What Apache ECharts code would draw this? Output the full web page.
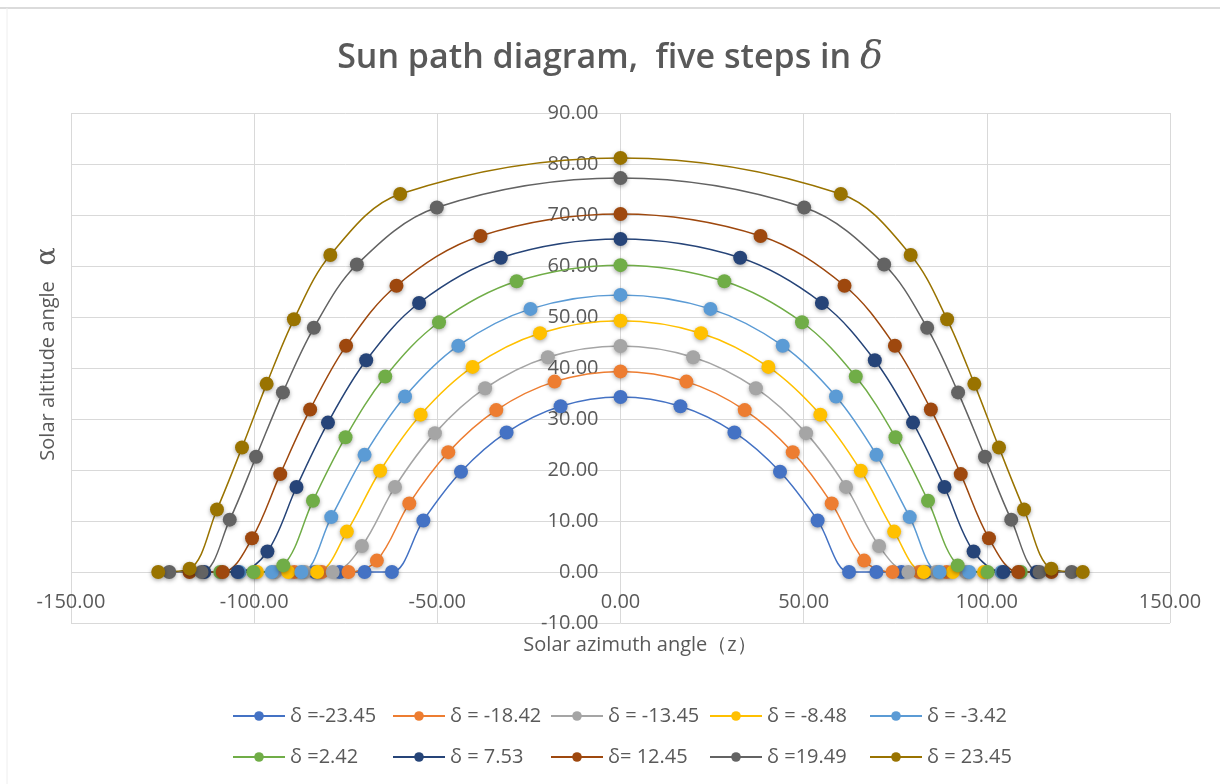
<!DOCTYPE html>
<html>
<head>
<meta charset="utf-8">
<script src="https://cdn.jsdelivr.net/npm/echarts@6/dist/echarts.min.js"></script>
<style>
html,body{margin:0;padding:0;background:#fff;}
#chart{width:1220px;height:784px;}
</style>
</head>
<body>
<div id="chart"></div>
<script>
// Series names (as in legend)
var seriesNames = ['δ =-23.45', 'δ = -18.42', 'δ = -13.45', 'δ = -8.48', 'δ = -3.42',
                   'δ =2.42', 'δ = 7.53', 'δ= 12.45', 'δ =19.49', 'δ = 23.45'];
var seriesColors = ['#4472C4', '#ED7D31', '#A5A5A5', '#FFC000', '#5B9BD5',
                    '#70AD47', '#264478', '#9E480E', '#636363', '#997300'];

// Solar azimuth angle z (x) and solar altitude angle α (y), one point per hour
var az_m2345 = [-83.40,-76.67,-69.85,-62.40,-53.81,-43.54,-31.10,-16.35,0,16.35,31.10,43.54,53.81,62.40,69.85,76.67,83.40];
var al_m2345 = [0,0,0,0,10.11,19.65,27.36,32.49,34.30,32.49,27.36,19.65,10.11,0,0,0,0];

var az_m1842 = [-89.02,-81.55,-74.27,-66.51,-57.65,-47.02,-33.91,-17.99,0,17.99,33.91,47.02,57.65,66.51,74.27,81.55,89.02];
var al_m1842 = [0,0,0,2.24,13.45,23.50,31.75,37.33,39.33,37.33,31.75,23.50,13.45,2.24,0,0,0];

var az_m1345 = [-94.26,-86.20,-78.57,-70.59,-61.56,-50.66,-36.96,-19.83,0,19.83,36.96,50.66,61.56,70.59,78.57,86.20,94.26];
var al_m1345 = [0,0,0,5.09,16.69,27.23,36.03,42.10,44.30,42.10,36.03,27.23,16.69,5.09,0,0,0];

var az_m848 = [-99.23,-90.71,-82.81,-74.70,-65.60,-54.55,-40.37,-21.97,0,21.97,40.37,54.55,65.60,74.70,82.81,90.71,99.23];
var al_m848 = [0,0,0,7.92,19.85,30.85,40.22,46.83,49.27,46.83,40.22,30.85,19.85,7.92,0,0,0];

var az_m342 = [-104.02,-95.18,-87.11,-78.95,-69.87,-58.82,-44.28,-24.57,0,24.57,44.28,58.82,69.87,78.95,87.11,95.18,104.02];
var al_m342 = [0,0,0,10.76,22.97,34.41,44.37,51.59,54.33,51.59,44.37,34.41,22.97,10.76,0,0,0];

var az_p242 = [-109.26,-100.20,-92.05,-83.95,-75.06,-64.22,-49.54,-28.35,0,28.35,49.54,64.22,75.06,83.95,92.05,100.20,109.26];
var al_p242 = [0,0,1.29,13.96,26.43,38.32,48.97,57.01,60.17,57.01,48.97,38.32,26.43,13.96,1.29,0,0];

var az_p753 = [-113.61,-104.51,-96.38,-88.44,-79.85,-69.42,-54.98,-32.67,0,32.67,54.98,69.42,79.85,88.44,96.38,104.51,113.61];
var al_p753 = [0,0,4.01,16.67,29.29,41.51,52.75,61.62,65.28,61.62,52.75,41.51,29.29,16.67,4.01,0,0];

var az_p1245 = [-117.64,-108.59,-100.58,-92.88,-84.72,-74.91,-61.15,-38.22,0,38.22,61.15,74.91,84.72,92.88,100.58,108.59,117.64];
var al_p1245 = [0,0,6.61,19.20,31.87,44.35,56.13,65.89,70.20,65.89,56.13,44.35,31.87,19.20,6.61,0,0];

var az_p1949 = [-123.17,-114.36,-106.66,-99.48,-92.15,-83.71,-71.97,-50.14,0,50.14,71.97,83.71,92.15,99.48,106.66,114.36,123.17];
var al_p1949 = [0,0,10.26,22.61,35.22,47.89,60.29,71.47,77.24,71.47,60.29,47.89,35.22,22.61,10.26,0,0];

var az_p2345 = [-126.19,-117.60,-110.15,-103.32,-96.59,-89.15,-79.21,-60.14,0,60.14,79.21,89.15,96.59,103.32,110.15,117.60,126.19];
var al_p2345 = [0,0.66,12.26,24.40,36.89,49.55,62.16,74.11,81.20,74.11,62.16,49.55,36.89,24.40,12.26,0.66,0];

var azimuths = [az_m2345, az_m1842, az_m1345, az_m848, az_m342, az_p242, az_p753, az_p1245, az_p1949, az_p2345];
var altitudes = [al_m2345, al_m1842, al_m1345, al_m848, al_m342, al_p242, al_p753, al_p1245, al_p1949, al_p2345];

var textColor = '#595959';
var gridColor = '#d9d9d9';
var fontFam = '"Open Sans", "Noto Sans", sans-serif';

// grid geometry (used to place the axes where they cross zero)
var G_LEFT = 71, G_RIGHT = 50, G_TOP = 113, G_BOTTOM = 161, W = 1220, H = 784;
var X_MIN = -150, X_MAX = 150, Y_MIN = -10, Y_MAX = 90;
var gridW = W - G_LEFT - G_RIGHT, gridH = H - G_TOP - G_BOTTOM;
var yAxisShift = gridW * (0 - X_MIN) / (X_MAX - X_MIN);   // from left edge to x=0
var xAxisShift = gridH * (0 - Y_MIN) / (Y_MAX - Y_MIN);   // from bottom edge to y=0

var series = seriesNames.map(function (name, i) {
  var pts = azimuths[i].map(function (z, k) { return [z, altitudes[i][k]]; });
  return {
    name: name,
    type: 'line',
    data: pts,
    smooth: 0.35,
    symbol: 'circle',
    symbolSize: 14,
    lineStyle: { width: 1.5, color: seriesColors[i] },
    itemStyle: {
      color: seriesColors[i],
      shadowBlur: 4,
      shadowColor: 'rgba(0,0,0,0.35)',
      shadowOffsetY: 1.5
    },
    emphasis: { disabled: true }
  };
});

var colX = [232, 392, 550, 709, 869];
var rowY = [716, 757];
var legends = seriesNames.map(function (name, i) {
  return {
    data: [name],
    left: colX[i % 5],
    top: rowY[Math.floor(i / 5)] - 10,
    padding: 0,
    itemWidth: 52,
    itemHeight: 12,
    itemGap: 0,
    textStyle: { fontSize: 20, color: textColor, fontFamily: fontFam }
  };
});

var chart = echarts.init(document.getElementById('chart'), null, { renderer: 'canvas' });
chart.setOption({
  animation: false,
  backgroundColor: '#ffffff',
  color: seriesColors,
  title: {
    text: '{a|Sun path diagram,  five steps in }{b|δ}',
    left: 'center',
    top: 34,
    textStyle: {
      rich: {
        a: { fontSize: 34, fontWeight: 600, color: textColor, fontFamily: fontFam },
        b: { fontSize: 38, fontWeight: 'normal', fontStyle: 'italic', color: textColor, fontFamily: '"DejaVu Serif", serif' }
      }
    }
  },
  grid: { left: G_LEFT, right: G_RIGHT, top: G_TOP, bottom: G_BOTTOM, containLabel: false },
  legend: legends,
  xAxis: {
    type: 'value',
    min: X_MIN, max: X_MAX, interval: 50,
    offset: -xAxisShift,
    axisLine: { onZero: false, show: false },
    axisTick: { show: false },
    axisLabel: {
      margin: 20, fontSize: 20, color: textColor, fontFamily: fontFam,
      formatter: function (v) { return v.toFixed(2); }
    },
    splitLine: { show: true, lineStyle: { color: gridColor, width: 1 } }
  },
  yAxis: {
    type: 'value',
    min: Y_MIN, max: Y_MAX, interval: 10,
    offset: -yAxisShift,
    axisLine: { onZero: false, show: false },
    axisTick: { show: false },
    axisLabel: {
      margin: 22, fontSize: 20, color: textColor, fontFamily: fontFam,
      formatter: function (v) { return v.toFixed(2); }
    },
    splitLine: { show: true, lineStyle: { color: gridColor, width: 1 } }
  },
  graphic: [
    { type: 'line', shape: { x1: 0, y1: 8, x2: 1220, y2: 8 }, style: { stroke: '#cfcfcf', lineWidth: 1.5 }, silent: true },
    { type: 'line', shape: { x1: 7, y1: 8, x2: 7, y2: 784 }, style: { stroke: '#eeeeee', lineWidth: 1 }, silent: true },
    {
      type: 'text', x: 640, y: 645, silent: true,
      style: { text: 'Solar azimuth angle（z）', fontSize: 20, fill: textColor, fontFamily: fontFam, align: 'center', verticalAlign: 'middle' }
    },
    {
      type: 'text', x: 48, y: 354, rotation: Math.PI / 2, silent: true,
      style: {
        text: '{a|Solar altitude angle   }{b|α}',
        align: 'center', verticalAlign: 'middle',
        rich: {
          a: { fontSize: 20, fill: textColor, color: textColor, fontFamily: fontFam },
          b: { fontSize: 27, fill: textColor, color: textColor, fontFamily: '"DejaVu Serif", serif' }
        }
      }
    }
  ],
  series: series
});
</script>
</body>
</html>
